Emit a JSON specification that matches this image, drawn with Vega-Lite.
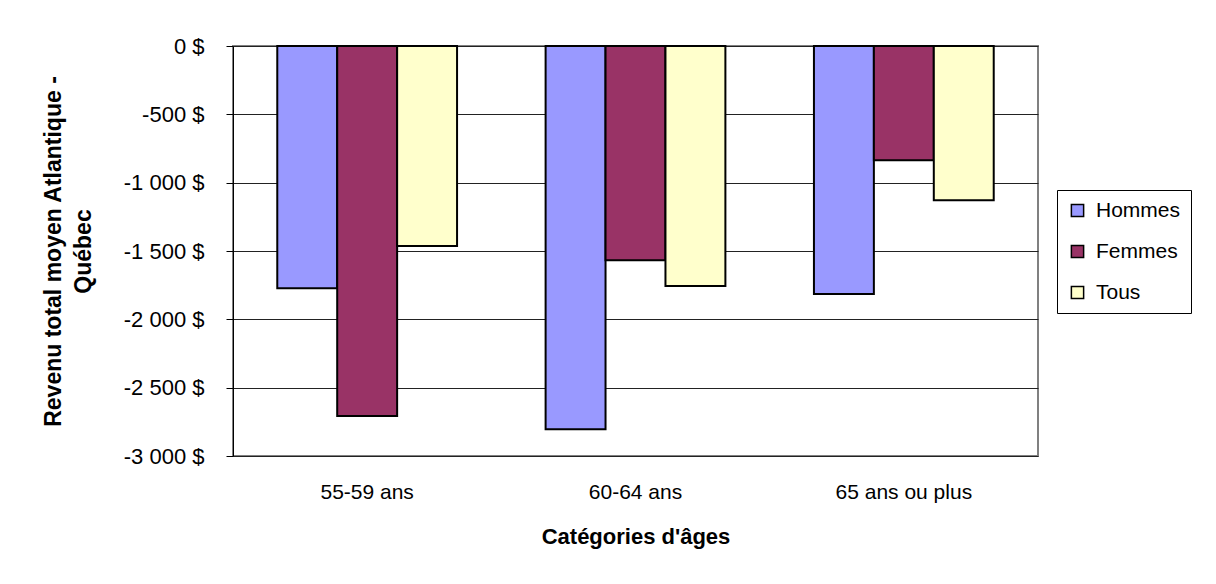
{
  "$schema": "https://vega.github.io/schema/vega-lite/v6.json",
  "width": 805,
  "height": 410,
  "autosize": {"type": "none"},
  "padding": {"left": 233, "top": 46, "right": 178, "bottom": 128},
  "background": "white",
  "data": {
    "values": [
      {"age": "55-59 ans", "sexe": "Hommes", "revenu": -1772},
      {"age": "55-59 ans", "sexe": "Femmes", "revenu": -2707},
      {"age": "55-59 ans", "sexe": "Tous", "revenu": -1464},
      {"age": "60-64 ans", "sexe": "Hommes", "revenu": -2805},
      {"age": "60-64 ans", "sexe": "Femmes", "revenu": -1567},
      {"age": "60-64 ans", "sexe": "Tous", "revenu": -1757},
      {"age": "65 ans ou plus", "sexe": "Hommes", "revenu": -1815},
      {"age": "65 ans ou plus", "sexe": "Femmes", "revenu": -836},
      {"age": "65 ans ou plus", "sexe": "Tous", "revenu": -1128}
    ]
  },
  "mark": {"type": "bar", "stroke": "black", "strokeWidth": 2},
  "encoding": {
    "x": {
      "field": "age",
      "type": "nominal",
      "sort": null,
      "scale": {"paddingInner": 0.33, "paddingOuter": 0.165},
      "axis": {
        "title": "Catégories d'âges",
        "titleFontSize": 22,
        "titleFontWeight": "bold",
        "titleFont": "Liberation Sans",
        "titleColor": "black",
        "titlePadding": 24,
        "labelFont": "Liberation Sans",
        "labelFontSize": 21,
        "labelColor": "black",
        "labelAngle": 0,
        "labelPadding": 25,
        "ticks": false,
        "domain": false
      }
    },
    "xOffset": {"field": "sexe", "type": "nominal", "sort": ["Hommes", "Femmes", "Tous"]},
    "y": {
      "field": "revenu",
      "type": "quantitative",
      "scale": {"domain": [-3000, 0], "nice": false},
      "axis": {
        "title": ["Revenu total moyen Atlantique -", "Québec"],
        "titleFontSize": 23,
        "titleFontWeight": "bold",
        "titleFont": "Liberation Sans",
        "titleColor": "black",
        "titleLineHeight": 30,
        "titlePadding": 28,
        "values": [0, -500, -1000, -1500, -2000, -2500, -3000],
        "labelExpr": "(datum.value < 0 ? '-' : '') + replace(format(abs(datum.value), ','), ',', ' ') + ' $'",
        "labelFont": "Liberation Sans",
        "labelFontSize": 22,
        "labelColor": "black",
        "labelPadding": 22,
        "tickSize": 7,
        "tickColor": "black",
        "domainColor": "black",
        "grid": true,
        "gridColor": "#222222",
        "gridWidth": 1
      }
    },
    "color": {
      "field": "sexe",
      "type": "nominal",
      "sort": ["Hommes", "Femmes", "Tous"],
      "scale": {"domain": ["Hommes", "Femmes", "Tous"], "range": ["#9999FF", "#993366", "#FFFFCC"]},
      "legend": {
        "title": null,
        "orient": "none",
        "legendX": 824,
        "legendY": 144,
        "strokeColor": "black",
        "fillColor": "white",
        "padding": 10,
        "symbolType": "square",
        "symbolSize": 150,
        "symbolStrokeColor": "black",
        "symbolStrokeWidth": 1.5,
        "symbolOpacity": 1,
        "labelFont": "Liberation Sans",
        "labelFontSize": 21,
        "labelColor": "black",
        "rowPadding": 19,
        "labelOffset": 8
      }
    }
  },
  "config": {
    "view": {"stroke": "#808080", "strokeWidth": 2}
  }
}
